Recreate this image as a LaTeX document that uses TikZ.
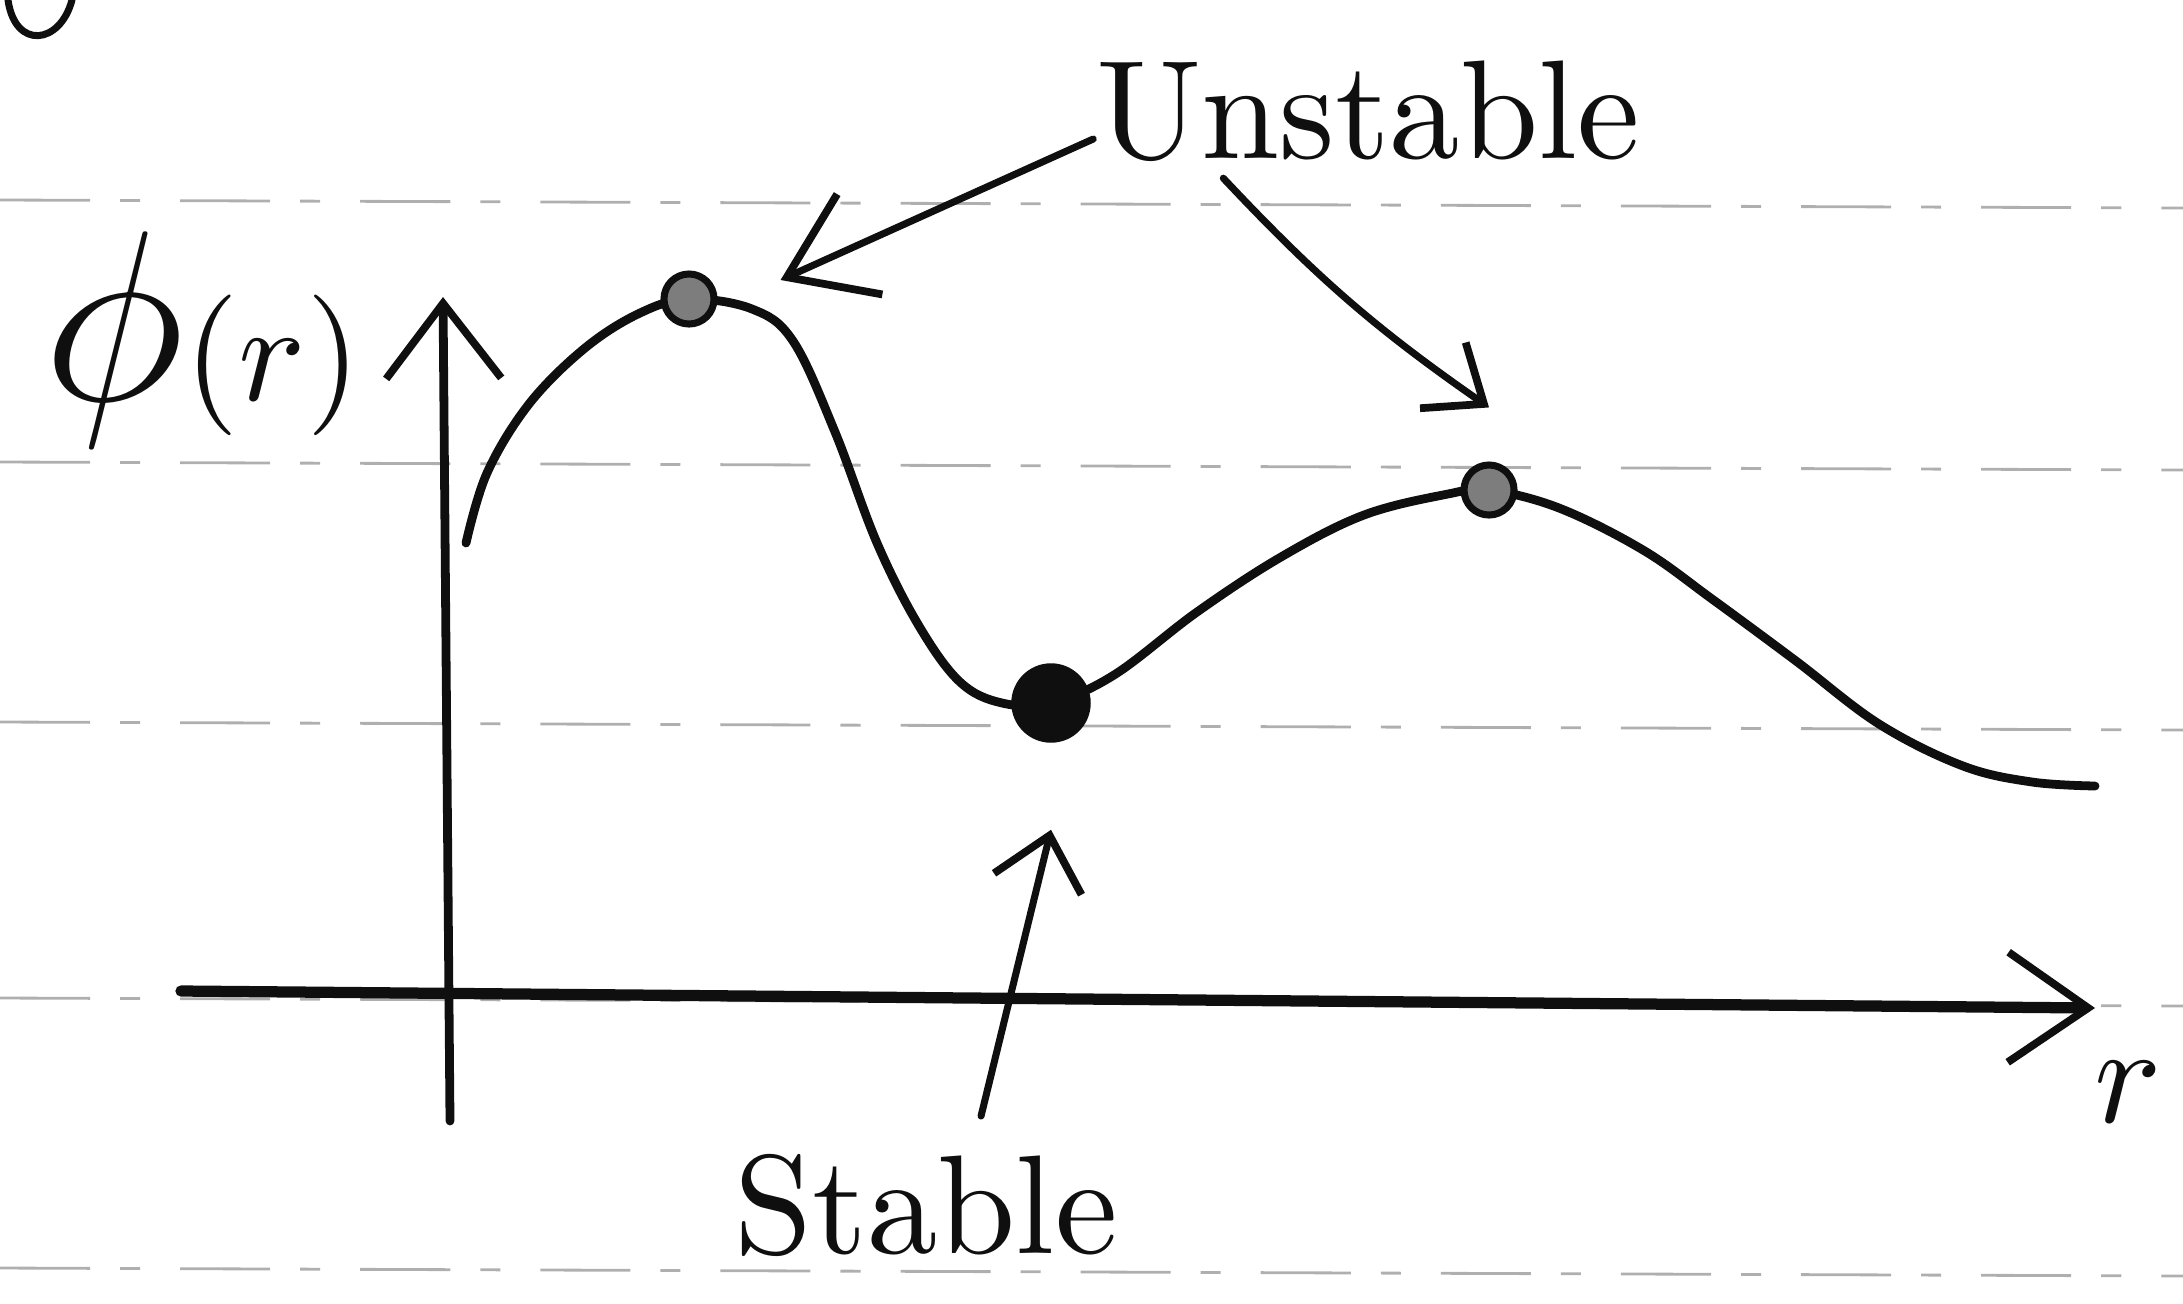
\documentclass[tikz,border=0pt]{standalone}
\usepackage{xcolor}
\usepackage{tikz}
\usetikzlibrary{arrows.meta,positioning,calc}
\definecolor{inkblack}{RGB}{15,15,15}
\definecolor{rulegray}{RGB}{175,175,175}
\definecolor{dotgray}{RGB}{125,125,125}

\begin{document}
\begin{tikzpicture}[
  x=0.01cm, y=-0.01cm,
  ink/.style={line width=2.5pt, color=inkblack, line cap=round, line join=round},
  axis/.style={ink, line width=3.2pt},
  pointer/.style={ink, line width=2pt},
  barb/.style 2 args={-{Straight Barb[length=#1, width=#2, line width=2.2pt]}},
  ruled/.style={line width=0.8pt, color=rulegray, dash pattern=on 9mm off 3mm on 2mm off 4mm},
  unst/.style={circle, draw=inkblack, line width=2pt, fill=dotgray, minimum size=5mm, inner sep=0pt},
  stab/.style={circle, draw=inkblack, fill=inkblack, minimum size=7.8mm, inner sep=0pt},
  lbl/.style={scale=4, inner sep=0pt, text=inkblack}
]
  \useasboundingbox (0,0) rectangle (2183,1303);

  \foreach \ry in {200,462,722,998,1268}
    \draw[ruled] (0,\ry) -- (2183,\ry+8);

  \coordinate (pk1) at (689,299);
  \coordinate (vl) at (1051,703);
  \coordinate (pk2) at (1489,490);
  \coordinate (xstart) at (181,991);
  \coordinate (xend) at (2095,1008);
  \coordinate (ybottom) at (450,1121);
  \coordinate (ytop) at (443,297);

  \draw[ink, line width=2pt] (8,0) .. controls (15,50) and (60,45) .. (72,0);

  \draw[axis, barb={8mm}{11mm}] (xstart) -- (xend);
  \draw[ink, barb={7.5mm}{11.5mm}] (ybottom) -- (ytop);

  \draw[ink] plot[smooth, tension=0.6] coordinates {
    (466,543) (487,473) (529,404) (585,348) (640,313) (pk1) (752,309)
    (793,341) (835,432) (877,543) (919,626) (960,682) (1002,703) (vl)
    (1114,675) (1197,612) (1281,557) (1364,515) (1448,494) (pk2)
    (1559,508) (1643,550) (1712,599) (1796,661) (1879,724) (1963,766)
    (2032,782) (2095,786)};

  \node[unst] (max1) at (pk1) {};
  \node[unst] (max2) at (pk2) {};
  \node[stab] (min) at (vl) {};

  \node[lbl] (philbl) at (202,340) {{\LARGE$\phi$}$(r)$};
  \node[lbl] (rlbl) at (2128,1092) {$r$};
  \node[lbl] (unstablelbl) at (1368,111) {Unstable};
  \node[lbl] (stablelbl) at (926,1205) {Stable};

  \draw[pointer, barb={8mm}{11mm}] ([yshift=-2.8mm]unstablelbl.west) -- ([xshift=6.3mm, yshift=1.9mm]max1.east);
  \draw[pointer, barb={5mm}{8mm}] ([xshift=13mm, yshift=-1.4mm]unstablelbl.south west) to[bend right=6] ([yshift=5.4mm]max2.north);
  \draw[pointer, barb={5mm}{9mm}] ([xshift=5.5mm, yshift=3.5mm]stablelbl.north) -- ([yshift=-8.7mm]min.south);
\end{tikzpicture}
\end{document}
